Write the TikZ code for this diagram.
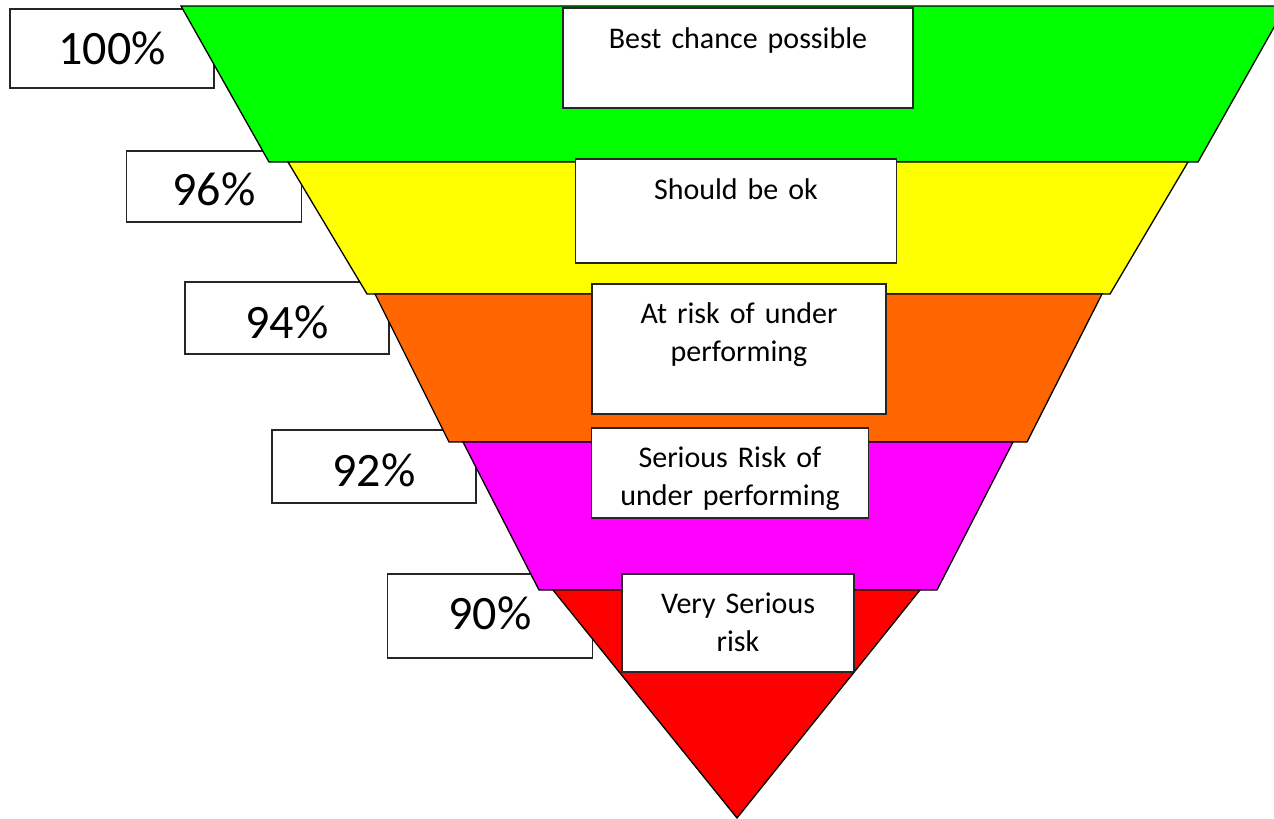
\documentclass[tikz,border=0pt]{standalone}
\usepackage{fontspec}
\setmainfont{Carlito}
\usepackage{tikz}

\definecolor{bandgreen}{RGB}{0,255,0}
\definecolor{bandyellow}{RGB}{255,255,0}
\definecolor{bandorange}{RGB}{255,102,0}
\definecolor{bandmagenta}{RGB}{255,0,255}
\definecolor{bandred}{RGB}{255,0,0}

\begin{document}
\begin{tikzpicture}[
  x=1pt, y=-1pt,
  band/.style={draw=black, line width=1.3pt, line join=miter},
  pctbox/.style={draw=black!85, fill=white, line width=1.3pt, anchor=base,
                 inner xsep=0pt, inner ysep=0pt, align=center,
                 font=\fontsize{48}{58}\selectfont},
  tagbox/.style={draw=black!85, fill=white, line width=1.3pt, anchor=base,
                 inner xsep=0pt, inner ysep=0pt, align=center,
                 font=\fontsize{30}{38}\selectfont}
]
\useasboundingbox (0,0) rectangle (1274,819);
\clip (0,0) rectangle (1274,819);

% percentage tabs sit behind the funnel
\node[pctbox, text width=204pt, text height=55pt, text depth=24pt] (p100) at (112,64)  {100\%};
\node[pctbox, text width=175pt, text height=54pt, text depth=17pt] (p96)  at (214,205) {96\%};
\node[pctbox, text width=204pt, text height=56pt, text depth=16pt] (p94)  at (287,338) {94\%};
\node[pctbox, text width=204pt, text height=56pt, text depth=17pt] (p92)  at (374,486) {92\%};
\node[pctbox, text width=205pt, text height=55pt, text depth=29pt] (p90)  at (490,629) {90\%};

% funnel bands, top to bottom
\filldraw[band, fill=bandgreen]   (181,6)   -- (1286,6)   -- (1198,162) -- (269,162) -- cycle;
\filldraw[band, fill=bandyellow]  (288,162) -- (1188,162) -- (1110,294) -- (367,294) -- cycle;
\filldraw[band, fill=bandorange]  (375,294) -- (1102,294) -- (1027,442) -- (449,442) -- cycle;
\filldraw[band, fill=bandmagenta] (463,442) -- (1013,442) -- (937,590)  -- (539,590) -- cycle;
\filldraw[band, fill=bandred]     (553,590) -- (920,590)  -- (737,818)  -- cycle;

% descriptions on top of the bands
\node[tagbox, text width=350pt, text height=40pt, text depth=60pt] (best)    at (738,48)  {Best chance possible};
\node[tagbox, text width=321pt, text height=40pt, text depth=64pt] (ok)      at (736,199) {Should be ok};
\node[tagbox, text width=294pt, text height=39pt, text depth=91pt] (atrisk)  at (739,323) {At risk of under\\performing};
\node[tagbox, text width=277pt, text height=39pt, text depth=51pt] (serious) at (730,467) {Serious Risk of\\under performing};
\node[tagbox, text width=232pt, text height=39pt, text depth=59pt] (veryser) at (738,613) {Very Serious\\risk};
\end{tikzpicture}
\end{document}
